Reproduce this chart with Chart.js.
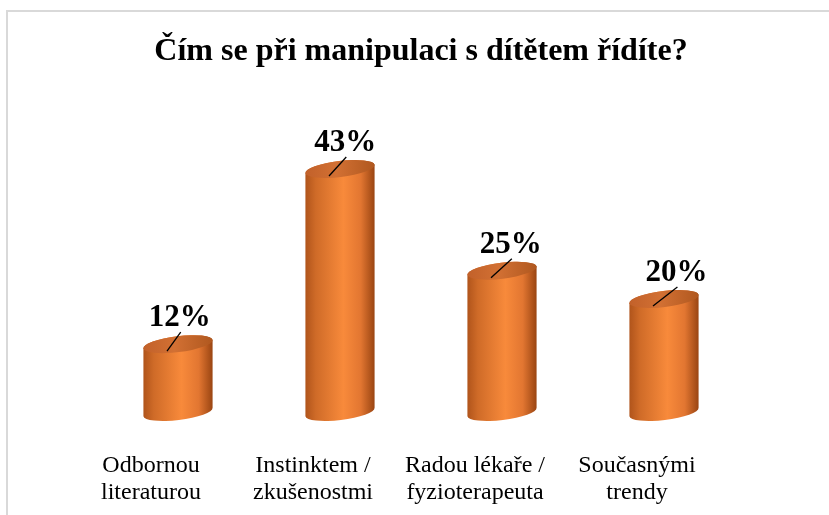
<!DOCTYPE html>
<html>
<head>
<meta charset="utf-8">
<script src="https://cdn.jsdelivr.net/npm/chart.js@4"></script>
<style>
  body { margin: 0; background: #fff; }
  #wrap { position: relative; width: 829px; height: 515px; overflow: hidden; }
  #ramecek { position: absolute; left: 6px; top: 10px; width: 900px; height: 600px; border: 2px solid #d9d9d9; }
  #graf { position: absolute; left: 0; top: 0; }
</style>
</head>
<body>
<div id="wrap">
  <div id="ramecek"></div>
  <canvas id="graf" width="829" height="515"></canvas>
</div>
<script>
const kategorie = [
    ["Odbornou", "literaturou"],
    ["Instinktem /", "zkušenostmi"],
    ["Radou lékaře /", "fyzioterapeuta"],
    ["Současnými", "trendy"]
];
const hodnoty = [12, 43, 25, 20];
const popisky = ["12%", "43%", "25%", "20%"];

const SERIF = "'Liberation Serif', 'Times New Roman', serif";

// valce misto obdelniku
const valce = {
    id: "valce",
    afterDatasetsDraw(chart) {
        const ctx = chart.ctx;
        const meta = chart.getDatasetMeta(0);
        const rot = -0.12;
        const ry = 8;
        meta.data.forEach(function (bar, i) {
            const x = bar.x, top = bar.y, base = bar.base;
            const rx = bar.width / 2;
            const dx = rx * Math.cos(rot);

            // telo
            let g = ctx.createLinearGradient(x - dx, 0, x + dx, 0);
            g.addColorStop(0, "#b0541b");
            g.addColorStop(0.15, "#cf6b28");
            g.addColorStop(0.55, "#f88a3b");
            g.addColorStop(0.8, "#e27631");
            g.addColorStop(1, "#9a4512");
            ctx.save();
            ctx.beginPath();
            ctx.ellipse(x, base, rx, ry, rot, Math.PI, 0, true);
            ctx.ellipse(x, top, rx, ry, rot, 0, Math.PI, true);
            ctx.closePath();
            ctx.fillStyle = g;
            ctx.fill();

            // vrsek
            let g2 = ctx.createLinearGradient(x - dx, 0, x + dx, 0);
            g2.addColorStop(0, "#c2612a");
            g2.addColorStop(0.45, "#d27033");
            g2.addColorStop(1, "#b0581f");
            ctx.beginPath();
            ctx.ellipse(x, top, rx, ry, rot, 0, Math.PI * 2);
            ctx.fillStyle = g2;
            ctx.fill();
            ctx.restore();

            // popisek hodnoty + caricka
            const lx = x + 0.022 * (x - 100);
            ctx.save();
            ctx.strokeStyle = "#000";
            ctx.lineWidth = 1.3;
            ctx.beginPath();
            ctx.moveTo(x - 11, top + 7);
            ctx.lineTo(lx + 1, top - 12);
            ctx.stroke();
            ctx.fillStyle = "#000";
            ctx.font = "bold 31px " + SERIF;
            ctx.textAlign = "center";
            ctx.textBaseline = "alphabetic";
            ctx.fillText(popisky[i], lx, top - 18);
            ctx.restore();
        });

        // kategorie (posunute doleva jako v excelu)
        ctx.save();
        ctx.fillStyle = "#000";
        ctx.font = "24px " + SERIF;
        ctx.textAlign = "center";
        ctx.textBaseline = "alphabetic";
        meta.data.forEach(function (bar, i) {
            const tx = bar.x - 27;
            ctx.fillText(kategorie[i][0], tx, 472);
            ctx.fillText(kategorie[i][1], tx, 499);
        });
        ctx.restore();
    }
};

new Chart(document.getElementById("graf"), {
    type: "bar",
    data: {
        labels: kategorie,
        datasets: [{
            data: hodnoty,
            backgroundColor: "rgba(0,0,0,0)",
            barPercentage: 0.43,
            categoryPercentage: 1
        }]
    },
    options: {
        responsive: false,
        animation: false,
        layout: { padding: { left: 97, right: 84, bottom: 103, top: 0 } },
        scales: {
            x: { display: false },
            y: { display: false, min: 0, max: 50 }
        },
        plugins: {
            legend: { display: false },
            tooltip: { enabled: false },
            title: {
                display: true,
                text: "Čím se při manipulaci s dítětem řídíte?",
                color: "#000",
                font: { family: SERIF, size: 32, weight: "bold" },
                padding: { top: 33, bottom: 58 }
            }
        }
    },
    plugins: [valce]
});
</script>
</body>
</html>
